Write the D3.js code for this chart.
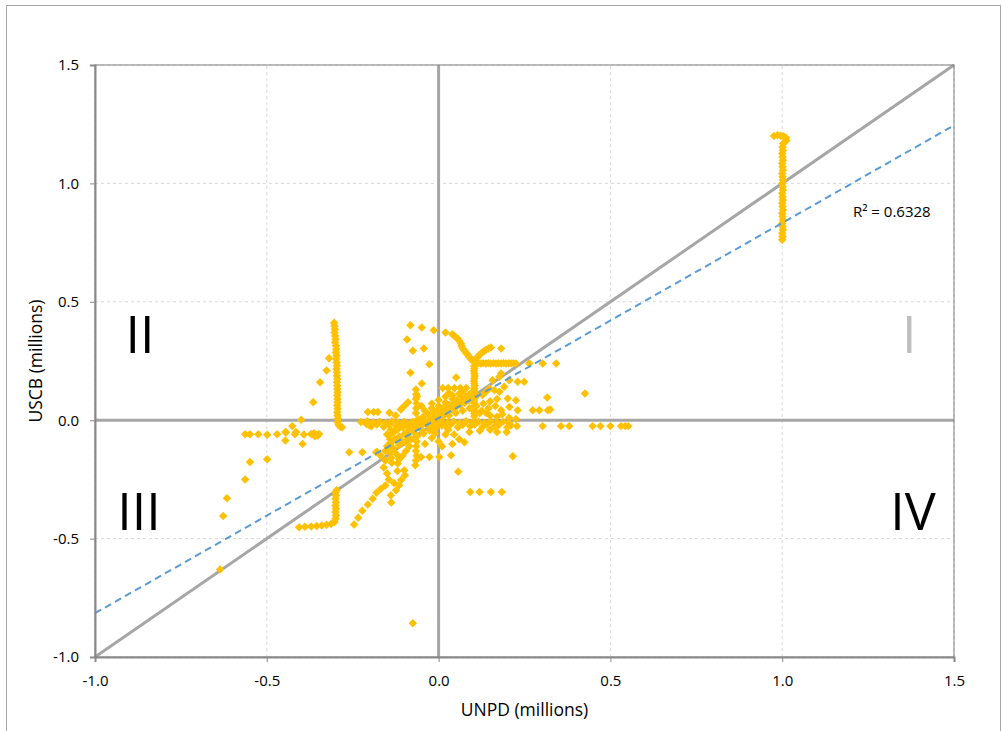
<!DOCTYPE html>
<html>
<head>
<meta charset="utf-8">
<script src="https://cdn.jsdelivr.net/npm/d3@7"></script>
<style>
body { margin: 0; background: #fff; }
text { font-family: "Open Sans", sans-serif; }
</style>
</head>
<body>
<div id="chart"></div>
<script>
const WIDTH = 1003;
const HEIGHT = 731;

// axis ticks (millions)
const xTicks = [-1.0, -0.5, 0.0, 0.5, 1.0, 1.5];
const yTicks = [-1.0, -0.5, 0.0, 0.5, 1.0, 1.5];
const quadrantNames = ['I', 'II', 'III', 'IV'];

// linear trend
const trendSlope = 0.824;
const trendIntercept = 0.009;
const rSquared = '0.6328';

// [UNPD, USCB] pairs, grouped by where they sit on the chart
const peakChain = [
    [0.976, 1.200], [0.986, 1.203], [0.995, 1.201], [1.004, 1.199], [1.011, 1.193], [1.012, 1.181],
    [1.003, 1.168], [1.001, 1.154], [1.002, 1.140], [1.000, 1.126], [1.001, 1.112], [1.002, 1.098],
    [1.000, 1.084], [1.001, 1.070], [1.002, 1.056], [1.000, 1.042], [1.001, 1.028], [1.002, 1.014],
    [1.000, 1.000], [1.001, 0.986], [1.002, 0.972], [1.000, 0.958], [1.001, 0.944], [1.002, 0.930],
    [1.000, 0.916], [1.001, 0.902], [1.002, 0.888], [1.000, 0.874], [1.001, 0.860], [1.002, 0.846],
    [1.000, 0.832], [1.001, 0.818], [1.002, 0.804], [1.000, 0.790], [1.001, 0.776], [1.000, 0.762]
];

const westChain = [
    [-0.304, 0.412], [-0.303, 0.398], [-0.302, 0.384], [-0.303, 0.370], [-0.301, 0.356], [-0.300, 0.342],
    [-0.301, 0.328], [-0.299, 0.314], [-0.298, 0.300], [-0.299, 0.286], [-0.297, 0.272], [-0.298, 0.258],
    [-0.297, 0.244], [-0.296, 0.230], [-0.297, 0.216], [-0.296, 0.202], [-0.296, 0.188], [-0.295, 0.174],
    [-0.296, 0.160], [-0.295, 0.146], [-0.295, 0.132], [-0.294, 0.118], [-0.295, 0.104], [-0.294, 0.090],
    [-0.294, 0.076], [-0.295, 0.062], [-0.294, 0.048], [-0.295, 0.034], [-0.294, 0.020], [-0.293, 0.006],
    [-0.294, -0.008], [-0.291, -0.020], [-0.286, -0.028], [-0.281, -0.030]
];

const westScatter = [
    [-0.319, 0.262], [-0.326, 0.210], [-0.345, 0.160], [-0.365, 0.076], [-0.400, 0.002], [-0.426, -0.025],
    [-0.446, -0.050], [-0.415, -0.050], [-0.446, -0.086], [-0.396, -0.100],
    [-0.563, -0.059], [-0.549, -0.059], [-0.525, -0.059], [-0.499, -0.061], [-0.470, -0.059], [-0.444, -0.052],
    [-0.418, -0.059], [-0.392, -0.060], [-0.371, -0.058], [-0.363, -0.055], [-0.357, -0.060], [-0.352, -0.066],
    [-0.348, -0.058], [-0.360, -0.068],
    [-0.549, -0.177], [-0.499, -0.165], [-0.563, -0.250], [-0.616, -0.330], [-0.627, -0.405], [-0.636, -0.630]
];

const southWest = [
    [-0.406, -0.452], [-0.389, -0.450], [-0.371, -0.449], [-0.355, -0.447], [-0.340, -0.445], [-0.326, -0.442],
    [-0.313, -0.438], [-0.303, -0.430], [-0.300, -0.416], [-0.299, -0.402], [-0.300, -0.388], [-0.299, -0.374],
    [-0.300, -0.360], [-0.299, -0.346], [-0.300, -0.332], [-0.299, -0.318], [-0.300, -0.304], [-0.297, -0.296],
    [-0.246, -0.440], [-0.234, -0.412], [-0.222, -0.382], [-0.206, -0.356], [-0.192, -0.332], [-0.181, -0.306],
    [-0.168, -0.290], [-0.155, -0.276], [-0.138, -0.348],
    [-0.260, -0.135], [-0.222, -0.135], [-0.182, -0.135], [-0.075, -0.857]
];

const centralBlob = [
    [-0.226, -0.008], [-0.208, -0.004], [-0.190, -0.010], [-0.172, -0.006], [-0.154, -0.012], [-0.136, -0.004],
    [-0.118, -0.010], [-0.100, -0.006], [-0.082, -0.012], [-0.064, -0.004], [-0.046, -0.010], [-0.028, -0.006],
    [-0.010, -0.012], [0.008, -0.004], [0.026, -0.010], [0.044, -0.006], [0.062, -0.012], [0.080, -0.004],
    [0.098, -0.010], [0.116, -0.006], [0.134, -0.012], [0.152, -0.004], [0.170, -0.010], [0.188, -0.006],
    [0.206, -0.012],
    [-0.196, -0.026], [-0.160, -0.028], [-0.124, -0.024], [-0.088, -0.030], [-0.052, -0.026], [-0.016, -0.028],
    [0.020, -0.024], [0.056, -0.030], [0.092, -0.026], [0.128, -0.028], [0.164, -0.024], [0.200, -0.030],
    [0.198, -0.050],
    [-0.210, -0.016], [-0.180, -0.018], [-0.145, -0.018], [-0.110, -0.020], [-0.070, -0.018], [-0.035, -0.018],
    [0.000, -0.016], [0.035, -0.018], [0.070, -0.020], [0.105, -0.018], [0.140, -0.018], [0.175, -0.020],
    [0.210, -0.022],
    [-0.168, -0.150], [-0.155, -0.130], [-0.150, -0.110], [-0.140, -0.095], [-0.128, -0.080], [-0.115, -0.070],
    [-0.100, -0.058], [-0.088, -0.045], [-0.075, -0.036], [-0.062, -0.025], [-0.050, -0.015], [-0.038, -0.005],
    [-0.025, 0.004], [-0.012, 0.012], [0.000, 0.020], [0.012, 0.030], [0.025, 0.038], [0.038, 0.046],
    [0.050, 0.055], [0.063, 0.064], [0.076, 0.074], [0.088, 0.084], [0.100, 0.094], [0.112, 0.104],
    [-0.120, -0.040], [-0.105, -0.030], [-0.090, -0.018], [-0.075, -0.008], [-0.060, 0.004], [-0.045, 0.014],
    [-0.030, 0.024], [-0.015, 0.034], [0.000, 0.044], [0.015, 0.054], [0.030, 0.064], [0.045, 0.074],
    [0.060, 0.084], [0.075, 0.094], [0.090, 0.110],
    [-0.150, -0.060], [-0.130, -0.050], [-0.110, -0.085], [-0.090, -0.070], [-0.070, -0.055], [-0.050, -0.040],
    [-0.030, -0.020], [-0.010, 0.000], [0.010, 0.010], [0.030, 0.020], [0.050, 0.030], [0.070, 0.040],
    [0.090, 0.050], [0.110, 0.060], [0.130, 0.070], [0.150, 0.080], [0.170, 0.090],
    [-0.132, -0.118], [-0.115, -0.105], [-0.098, -0.092], [-0.080, -0.080], [-0.062, -0.068], [-0.044, -0.056],
    [-0.026, -0.044], [-0.008, -0.034], [0.010, -0.022], [0.028, -0.040], [0.045, -0.060], [0.060, -0.080],
    [-0.020, -0.075], [0.000, -0.090], [-0.040, -0.100], [0.075, -0.093],
    [0.020, -0.060], [-0.010, -0.055], [0.040, -0.100], [0.010, -0.110],
    [-0.139, -0.040], [-0.140, -0.060], [-0.141, -0.080], [-0.141, -0.100], [-0.140, -0.120], [-0.139, -0.140],
    [-0.138, -0.160], [-0.136, -0.180],
    [-0.066, 0.130], [-0.065, 0.110], [-0.066, 0.090], [-0.064, 0.070], [-0.065, 0.050], [-0.066, 0.030],
    [-0.064, -0.090], [-0.065, -0.110], [-0.066, -0.130], [-0.064, -0.150], [-0.066, -0.170], [-0.068, -0.190],
    [-0.119, -0.183], [-0.100, -0.211], [-0.098, -0.232], [-0.109, -0.253], [-0.115, -0.275], [-0.124, -0.296],
    [-0.139, -0.317],
    [-0.160, -0.200], [-0.150, -0.225], [-0.145, -0.250], [-0.130, -0.265], [-0.120, -0.215], [-0.115, -0.165],
    [-0.095, -0.130], [-0.125, -0.140], [-0.155, -0.170], [-0.085, -0.110], [-0.105, -0.150],
    [-0.114, -0.155], [-0.051, -0.155], [-0.027, -0.155], [0.002, -0.155], [0.036, -0.148], [-0.179, -0.134],
    [0.057, -0.218], [0.216, -0.152], [0.092, -0.303], [0.119, -0.303], [0.152, -0.303], [0.184, -0.303],
    [-0.206, 0.035], [-0.189, 0.035], [-0.177, 0.035], [-0.143, 0.031], [-0.202, -0.021],
    [-0.089, 0.076], [-0.063, 0.100], [-0.100, 0.060], [-0.110, 0.045], [-0.125, 0.020],
    [0.012, 0.136], [0.028, 0.136], [0.046, 0.136], [0.063, 0.136], [0.080, 0.136],
    [0.020, 0.100], [0.040, 0.105], [0.000, 0.085], [-0.020, 0.070], [0.060, 0.112],
    [-0.040, 0.040], [-0.020, 0.050], [0.000, 0.060], [0.020, 0.075], [0.040, 0.090], [0.060, 0.095],
    [0.080, 0.100], [-0.050, 0.060], [0.030, 0.115], [0.070, 0.120],
    [0.120, 0.030], [0.138, 0.030], [0.150, 0.020], [0.170, 0.015],
    [0.125, 0.040], [0.145, 0.050], [0.165, 0.060], [0.185, 0.025], [0.205, 0.010], [0.225, 0.005],
    [0.150, -0.040], [0.120, -0.045], [0.090, -0.050], [0.170, -0.050]
];

const northCluster = [
    [-0.082, 0.401], [-0.049, 0.391], [-0.014, 0.380], [0.020, 0.370],
    [0.040, 0.363], [0.047, 0.355], [0.055, 0.345], [0.060, 0.335], [0.065, 0.324], [0.067, 0.313],
    [0.070, 0.303], [0.075, 0.294], [0.080, 0.284], [0.085, 0.276], [0.089, 0.267], [0.094, 0.258],
    [0.099, 0.250], [0.107, 0.258], [0.114, 0.267], [0.119, 0.276], [0.125, 0.284], [0.131, 0.291],
    [0.138, 0.298], [0.145, 0.303], [0.152, 0.307], [0.182, 0.303],
    [0.109, 0.239], [0.116, 0.241], [0.123, 0.239], [0.130, 0.241], [0.138, 0.239], [0.145, 0.241],
    [0.152, 0.239], [0.160, 0.241], [0.167, 0.239], [0.174, 0.241], [0.182, 0.239], [0.189, 0.241],
    [0.196, 0.239], [0.204, 0.241], [0.211, 0.239], [0.218, 0.241], [0.225, 0.239],
    [0.264, 0.239], [0.303, 0.239], [0.342, 0.239],
    [0.104, 0.229], [0.104, 0.218], [0.103, 0.208], [0.104, 0.197], [0.105, 0.187], [0.104, 0.176],
    [0.103, 0.166], [0.104, 0.155], [0.105, 0.145], [0.104, 0.134], [0.103, 0.124], [0.104, 0.113],
    [0.105, 0.103], [0.104, 0.092], [0.103, 0.081], [0.104, 0.070], [0.105, 0.060], [0.104, 0.049],
    [0.103, 0.039], [0.104, 0.028], [0.104, 0.017],
    [-0.092, 0.341], [-0.075, 0.293], [-0.043, 0.303], [-0.027, 0.236], [-0.082, 0.200], [-0.049, 0.155],
    [0.051, 0.180]
];

const eastScatter = [
    [0.182, 0.197], [0.206, 0.169], [0.230, 0.162], [0.249, 0.162], [0.148, 0.134], [0.162, 0.127],
    [0.177, 0.120], [0.191, 0.141], [0.157, 0.169], [0.201, 0.092], [0.225, 0.084], [0.206, 0.056],
    [0.182, 0.042], [0.230, 0.042], [0.138, 0.120], [0.128, 0.106], [0.177, 0.183],
    [0.274, 0.042], [0.293, 0.042], [0.318, 0.042], [0.325, 0.045], [0.316, 0.096], [0.426, 0.113],
    [0.228, -0.025], [0.303, -0.025], [0.356, -0.025], [0.380, -0.025], [0.448, -0.025], [0.471, -0.025],
    [0.500, -0.025], [0.531, -0.025], [0.543, -0.025], [0.552, -0.025]
];

const allPoints = [].concat(peakChain, westChain, westScatter, southWest, centralBlob, northCluster, eastScatter);

const margin = { top: 65, right: 49, bottom: 74, left: 95 };
const plotW = WIDTH - margin.left - margin.right;
const plotH = HEIGHT - margin.top - margin.bottom;

const svg = d3.select('#chart')
    .append('svg')
    .attr('width', WIDTH)
    .attr('height', HEIGHT);

svg.append('rect')
    .attr('width', WIDTH)
    .attr('height', HEIGHT)
    .attr('fill', '#fff');

// outer chart frame
svg.append('rect')
    .attr('x', 6.5)
    .attr('y', 5.5)
    .attr('width', 994)
    .attr('height', 740)
    .attr('fill', 'none')
    .attr('stroke', '#a6a6a6');

const x = d3.scaleLinear().domain([-1, 1.5]).range([margin.left, margin.left + plotW]);
const y = d3.scaleLinear().domain([-1, 1.5]).range([margin.top + plotH, margin.top]);

// dashed gridlines
svg.append('g')
    .selectAll('line')
    .data(xTicks.filter(v => v != 0))
    .join('line')
    .attr('x1', d => x(d)).attr('x2', d => x(d))
    .attr('y1', y(-1)).attr('y2', y(1.5))
    .attr('stroke', '#d9d9d9')
    .attr('stroke-dasharray', '3,3');

svg.append('g')
    .selectAll('line')
    .data(yTicks.filter(v => v != 0))
    .join('line')
    .attr('y1', d => y(d)).attr('y2', d => y(d))
    .attr('x1', x(-1)).attr('x2', x(1.5))
    .attr('stroke', '#d9d9d9')
    .attr('stroke-dasharray', '3,3');

// zero lines and the 1:1 line
const refLines = svg.append('g')
    .attr('stroke', '#a6a6a6')
    .attr('stroke-width', 3);
refLines.append('line')
    .attr('x1', x(0)).attr('x2', x(0))
    .attr('y1', y(-1)).attr('y2', y(1.5));
refLines.append('line')
    .attr('x1', x(-1)).attr('x2', x(1.5))
    .attr('y1', y(0)).attr('y2', y(0));
refLines.append('line')
    .attr('x1', x(-1)).attr('x2', x(1.5))
    .attr('y1', y(-1)).attr('y2', y(1.5));

// quadrant numerals
const quadrantPos = { 'I': [1.37, 0.285, '#bfbfbf'], 'II': [-0.869, 0.283, '#000'],
    'III': [-0.872, -0.465, '#000'], 'IV': [1.381, -0.465, '#000'] };
svg.append('g')
    .selectAll('text')
    .data(quadrantNames)
    .join('text')
    .attr('x', d => x(quadrantPos[d][0]))
    .attr('y', d => y(quadrantPos[d][1]))
    .attr('text-anchor', 'middle')
    .attr('font-size', 52)
    .attr('fill', d => quadrantPos[d][2])
    .text(d => d);

// markers
const diamond = d3.symbol(d3.symbolSquare, 36);
svg.append('g')
    .selectAll('path')
    .data(allPoints)
    .join('path')
    .attr('transform', d => `translate(${x(d[0])},${y(d[1])}) rotate(45)`)
    .attr('d', diamond)
    .attr('fill', '#ffc000');

// trend line
const trendX = [-1, 1.5];
svg.append('path')
    .datum(trendX.map(v => [v, trendSlope * v + trendIntercept]))
    .attr('d', d3.line().x(d => x(d[0])).y(d => y(d[1])))
    .attr('fill', 'none')
    .attr('stroke', '#5b9bd5')
    .attr('stroke-width', 2)
    .attr('stroke-dasharray', '7,4.5');

svg.append('text')
    .attr('x', 853)
    .attr('y', 217)
    .attr('font-size', 15)
    .attr('fill', '#000')
    .text('R² = ' + rSquared);

// plot frame
svg.append('rect')
    .attr('x', x(-1)).attr('y', y(1.5))
    .attr('width', plotW).attr('height', plotH)
    .attr('fill', 'none')
    .attr('stroke', '#7f7f7f');

// axes
const fmt = d => d.toFixed(1);
const xAxis = svg.append('g')
    .attr('transform', `translate(0,${y(-1)})`)
    .call(d3.axisBottom(x).tickValues(xTicks).tickFormat(fmt).tickSize(5).tickPadding(13));
const yAxis = svg.append('g')
    .attr('transform', `translate(${x(-1)},0)`)
    .call(d3.axisLeft(y).tickValues(yTicks).tickFormat(fmt).tickSize(5).tickPadding(11));

[xAxis, yAxis].forEach(g => {
    g.select('.domain').attr('stroke', '#898989').attr('stroke-width', 2);
    g.selectAll('.tick line').attr('stroke', '#898989');
    g.selectAll('.tick text')
        .attr('font-family', '"Open Sans", sans-serif')
        .attr('font-size', 15)
        .attr('fill', '#000');
});

svg.append('text')
    .attr('x', x(0.25))
    .attr('y', 716)
    .attr('text-anchor', 'middle')
    .attr('font-size', 17.5)
    .text('UNPD (millions)');

svg.append('text')
    .attr('transform', `translate(42,${y(0.25)}) rotate(-90)`)
    .attr('text-anchor', 'middle')
    .attr('font-size', 17.5)
    .text('USCB (millions)');
</script>
</body>
</html>
